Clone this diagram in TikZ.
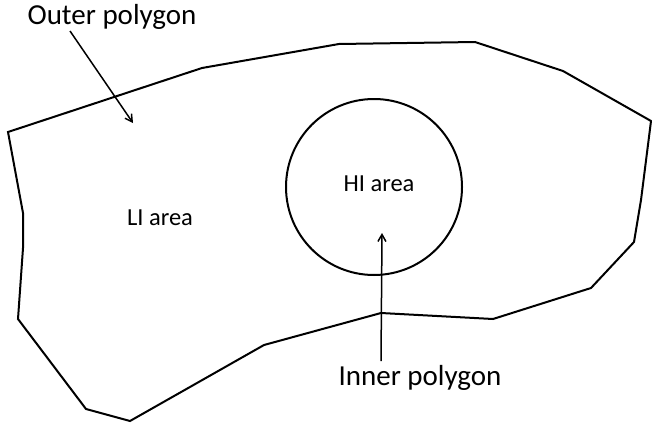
\documentclass[tikz,border=0pt]{standalone}
\usepackage{fontspec}
\setmainfont{Carlito}
\usetikzlibrary{arrows.meta}
\begin{document}
\begin{tikzpicture}[x=1pt,y=-1pt,
  outline/.style={line width=2pt,line join=miter},
  pointer/.style={line width=1.5pt,-{Straight Barb[length=7pt,width=8pt,line width=1.5pt]}},
  biglabel/.style={font=\fontsize{29}{32}\selectfont,inner sep=0pt},
  arealabel/.style={font=\fontsize{24.5}{27}\selectfont,inner sep=0pt}]
\useasboundingbox (0,0) rectangle (652,423);
\draw[outline] (8,132) -- (202,68) -- (339,44) -- (475,42) -- (563,71) -- (651,121)
  -- (641,200) -- (634,242) -- (591,288) -- (493,319) -- (381,313) -- (264,345)
  -- (130,421) -- (86,409) -- (18,319) -- (23,248) -- (23,213) -- cycle;
\node[draw,circle,line width=2pt,minimum size=176pt,inner sep=0pt] (hi) at (374,187) {};
\node[arealabel] (hitext) at (379,184) {HI area};
\node[arealabel] (litext) at (160,218) {LI area};
\node[biglabel] (outer) at (112,17) {Outer polygon};
\node[biglabel] (inner) at (420,378) {Inner polygon};
\coordinate (ohead) at (133,123);
\coordinate (otail) at (70,31);
\coordinate (ihead) at (382,233);
\coordinate (itail) at (381,361);
\draw[pointer] (otail) -- (ohead);
\draw[pointer] (itail) -- (ihead);
\end{tikzpicture}
\end{document}
